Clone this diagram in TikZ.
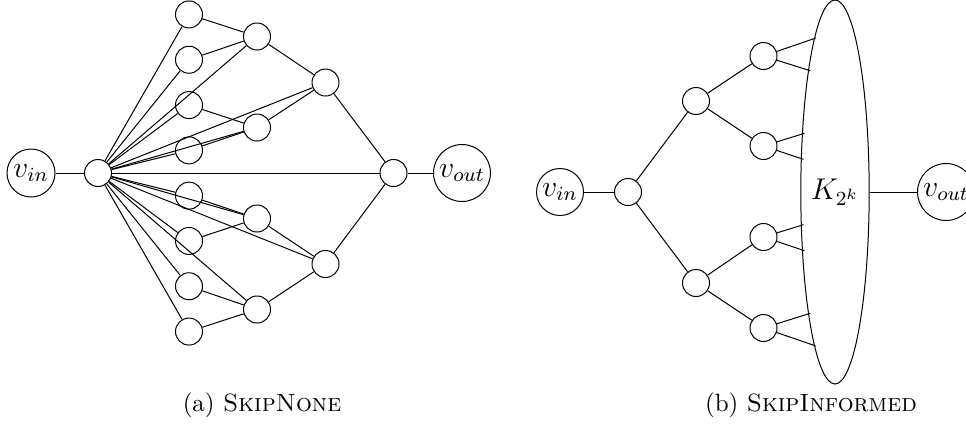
\documentclass[tikz,border=0pt]{standalone}
\usetikzlibrary{shapes.geometric}
\begin{document}
\begin{tikzpicture}[x=0.4pt,y=-0.4pt,
  vtx/.style={circle,draw,inner sep=0pt,minimum size=10.8pt},
  term/.style={circle,draw,inner sep=0pt,font=\large},
  captxt/.style={anchor=base,font=\normalsize}]
\useasboundingbox (0,0) rectangle (966,428);
% ---------- (a) SkipNone ----------
\node[term,minimum size=19.2pt] (ain) at (31,173) {$v_{in}$};
\node[vtx] (ah) at (98,173) {};
\foreach \i in {0,...,7} \node[vtx] (a1\i) at (189,{173+45.3*(\i-3.5)}) {};
\foreach \i in {0,...,3} \node[vtx] (a2\i) at (257,{173+91*(\i-1.5)}) {};
\node[vtx] (a30) at (325.5,82.5) {};
\node[vtx] (a31) at (325.5,264) {};
\node[vtx] (a4) at (393.5,173) {};
\node[term,minimum size=22.8pt] (aout) at (462,173) {$v_{out}$};
\draw (ain) -- (ah);
\foreach \i in {0,...,7} \draw (ah) -- (a1\i);
\foreach \i in {0,...,3} \draw (ah) -- (a2\i);
\draw (ah) -- (a30);
\draw (ah) -- (a31);
\draw (ah) -- (a4);
\draw (a10) -- (a20); \draw (a11) -- (a20);
\draw (a12) -- (a21); \draw (a13) -- (a21);
\draw (a14) -- (a22); \draw (a15) -- (a22);
\draw (a16) -- (a23); \draw (a17) -- (a23);
\draw (a20) -- (a30); \draw (a21) -- (a30);
\draw (a22) -- (a31); \draw (a23) -- (a31);
\draw (a30) -- (a4); \draw (a31) -- (a4);
\draw (a4) -- (aout);
\node[captxt] (capa) at (262,411) {(a) \textsc{SkipNone}};
% ---------- (b) SkipInformed ----------
\node[term,minimum size=18.8pt] (bin) at (560,192) {$v_{in}$};
\node[vtx] (br) at (628,192) {};
\node[vtx] (b10) at (696,101) {};
\node[vtx] (b11) at (696,283) {};
\node[vtx] (b20) at (763.5,56) {};
\node[vtx] (b21) at (763.5,146) {};
\node[vtx] (b22) at (763.5,237) {};
\node[vtx] (b23) at (763.5,328) {};
\node[ellipse,draw,inner sep=0pt,minimum width=25.6pt,minimum height=153.6pt,font=\large] (K) at (835,192) {$K_{2^k}$};
\node[term,minimum size=22.8pt] (bout) at (946,192) {$v_{out}$};
% contact points on the ellipse border
\coordinate (p1) at (815.9,38);
\coordinate (p2) at (810.2,70.7);
\coordinate (p3) at (804.5,133.3);
\coordinate (p4) at (803.5,159.3);
\coordinate (p5) at (803.5,224.7);
\coordinate (p6) at (804.5,250.7);
\coordinate (p7) at (810.2,313.3);
\coordinate (p8) at (815.9,346);
\draw (bin) -- (br);
\draw (br) -- (b10); \draw (br) -- (b11);
\draw (b10) -- (b20); \draw (b10) -- (b21);
\draw (b11) -- (b22); \draw (b11) -- (b23);
\draw (b20) -- (p1); \draw (b20) -- (p2);
\draw (b21) -- (p3); \draw (b21) -- (p4);
\draw (b22) -- (p5); \draw (b22) -- (p6);
\draw (b23) -- (p7); \draw (b23) -- (p8);
\draw (K) -- (bout);
\node[captxt] (capb) at (811,411) {(b) \textsc{SkipInformed}};
\end{tikzpicture}
\end{document}
